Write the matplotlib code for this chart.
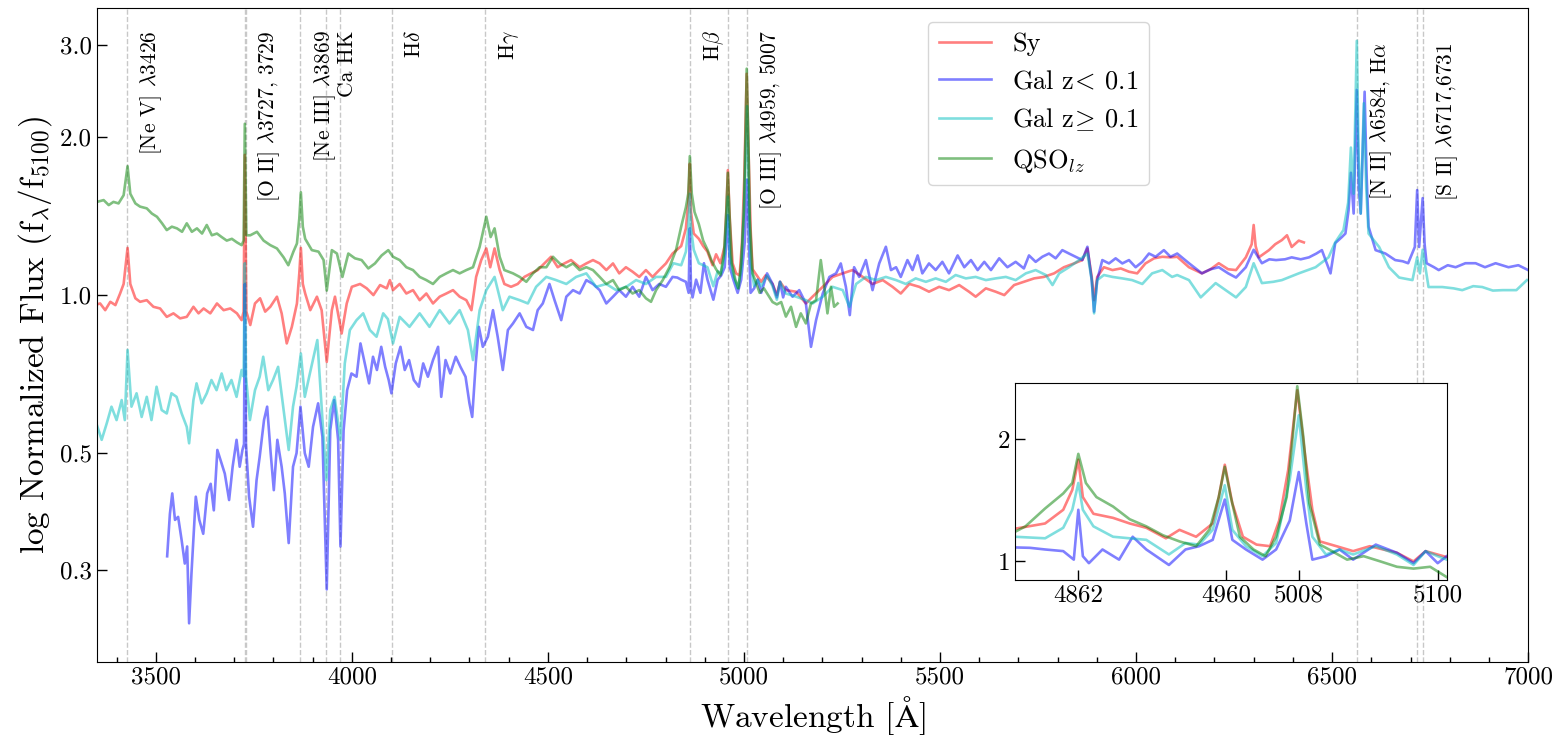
import matplotlib
matplotlib.use("Agg")
import matplotlib.pyplot as plt
from matplotlib.ticker import FixedLocator, FixedFormatter, MultipleLocator, NullLocator

plt.rcParams['font.family'] = ['cmr10', 'DejaVu Serif']
plt.rcParams['mathtext.fontset'] = 'cm'
plt.rcParams['axes.unicode_minus'] = False

# ---- composite spectra (wavelength in A, normalized flux) ----
sy_wave = [3350, 3358, 3371, 3384, 3397, 3409, 3418, 3428, 3435, 3448, 3460, 3477, 3494, 3511,
           3528, 3545, 3562, 3579, 3596, 3609, 3622, 3639, 3656, 3673, 3690, 3707, 3719, 3724,
           3727, 3731, 3741, 3753, 3766, 3779, 3792, 3809, 3821, 3834, 3847, 3860, 3866, 3870,
           3875, 3881, 3894, 3911, 3923, 3936, 3949, 3957, 3974, 3987, 4000, 4021, 4038, 4055,
           4072, 4089, 4097, 4105, 4122, 4139, 4156, 4173, 4190, 4207, 4224, 4241, 4258, 4275,
           4292, 4305, 4317, 4330, 4343, 4353, 4364, 4377, 4389, 4406, 4423, 4440, 4457, 4474,
           4491, 4508, 4525, 4542, 4559, 4581, 4598, 4615, 4632, 4649, 4666, 4682, 4699, 4716,
           4733, 4750, 4767, 4784, 4801, 4818, 4840, 4852, 4858, 4862, 4865, 4872, 4885, 4896,
           4907, 4920, 4929, 4940, 4951, 4955, 4959, 4964, 4971, 4980, 4989, 4995, 5001, 5007,
           5012, 5017, 5022, 5033, 5044, 5055, 5073, 5084, 5092, 5107, 5133, 5158, 5175, 5201,
           5226, 5252, 5277, 5303, 5328, 5354, 5379, 5400, 5422, 5447, 5472, 5498, 5523, 5549,
           5574, 5591, 5617, 5642, 5664, 5689, 5714, 5740, 5765, 5791, 5816, 5842, 5863, 5876,
           5887, 5893, 5901, 5918, 5940, 5961, 5982, 6003, 6024, 6046, 6067, 6088, 6105, 6135,
           6168, 6190, 6211, 6235, 6255, 6280, 6295, 6300, 6305, 6313, 6339, 6355, 6372, 6385,
           6397, 6415, 6428]
sy_flux = [0.96, 0.964, 0.936, 0.971, 0.957, 1.007, 1.05, 1.23, 1.05, 0.986, 0.971, 0.978, 0.95, 0.943,
           0.909, 0.923, 0.903, 0.909, 0.95, 0.923, 0.943, 0.923, 0.964, 0.936, 0.943, 0.923, 0.896, 0.93,
           1.85, 0.93, 0.877, 0.964, 0.986, 0.93, 0.95, 0.993, 0.923, 0.809, 0.87, 0.964, 1.10, 1.23,
           1.05, 1.007, 0.936, 0.993, 0.936, 0.746, 0.936, 0.993, 0.845, 0.964, 1.037, 1.05, 1.03, 1.0,
           1.045, 1.03, 1.068, 1.022, 1.05, 1.007, 1.022, 0.978, 1.007, 0.964, 0.993, 1.007, 1.022, 0.993,
           0.978, 0.936, 1.083, 1.166, 1.227, 1.13, 1.227, 1.116, 1.05, 1.037, 1.05, 1.083, 1.10, 1.116,
           1.149, 1.183, 1.13, 1.149, 1.166, 1.13, 1.149, 1.166, 1.149, 1.116, 1.149, 1.10, 1.13, 1.108,
           1.083, 1.116, 1.083, 1.116, 1.149, 1.20, 1.24, 1.34, 1.50, 1.78, 1.44, 1.31, 1.28, 1.24,
           1.21, 1.14, 1.196, 1.15, 1.24, 1.44, 1.73, 1.39, 1.15, 1.10, 1.09, 1.26, 1.68, 2.64,
           1.85, 1.34, 1.12, 1.09, 1.06, 1.09, 1.05, 1.00, 1.06, 1.022, 1.015, 0.964, 0.993, 1.037,
           1.083, 1.10, 1.116, 1.083, 1.05, 1.068, 1.037, 1.007, 1.05, 1.037, 1.015, 1.037, 1.022, 1.045,
           1.015, 0.993, 1.03, 1.015, 1.0, 1.045, 1.06, 1.076, 1.083, 1.10, 1.13, 1.149, 1.166, 1.227,
           1.083, 0.978, 1.083, 1.13, 1.116, 1.124, 1.108, 1.10, 1.149, 1.175, 1.183, 1.18, 1.183, 1.13,
           1.10, 1.12, 1.15, 1.12, 1.116, 1.18, 1.25, 1.36, 1.24, 1.18, 1.218, 1.25, 1.273, 1.30,
           1.235, 1.27, 1.26]

gal_lo_wave = [3529, 3536, 3542, 3549, 3557, 3566, 3574, 3580, 3585, 3591, 3602, 3611, 3621, 3631,
               3640, 3648, 3657, 3665, 3676, 3687, 3696, 3706, 3714, 3721, 3725, 3727, 3730, 3738,
               3748, 3757, 3765, 3776, 3784, 3793, 3801, 3810, 3821, 3829, 3839, 3850, 3859, 3869,
               3880, 3890, 3901, 3914, 3925, 3936, 3945, 3955, 3965, 3971, 3979, 3988, 3999, 4012,
               4022, 4033, 4044, 4054, 4064, 4075, 4085, 4094, 4101, 4112, 4124, 4135, 4146, 4158,
               4171, 4182, 4194, 4207, 4220, 4228, 4239, 4251, 4265, 4277, 4290, 4300, 4307, 4316,
               4324, 4334, 4347, 4360, 4372, 4385, 4398, 4411, 4428, 4445, 4462, 4474, 4487, 4504,
               4517, 4534, 4547, 4564, 4581, 4598, 4615, 4632, 4649, 4666, 4682, 4699, 4716, 4733,
               4750, 4767, 4784, 4801, 4818, 4830, 4840, 4852, 4859, 4862, 4865, 4869, 4878, 4889,
               4898, 4907, 4922, 4933, 4942, 4951, 4959, 4964, 4973, 4984, 4993, 5002, 5008, 5013,
               5017, 5026, 5035, 5044, 5059, 5073, 5084, 5092, 5100, 5107, 5124, 5141, 5158, 5171,
               5184, 5201, 5218, 5235, 5247, 5260, 5270, 5281, 5294, 5311, 5328, 5345, 5362, 5375,
               5388, 5400, 5417, 5430, 5443, 5455, 5472, 5489, 5506, 5523, 5545, 5562, 5579, 5596,
               5613, 5630, 5651, 5672, 5693, 5714, 5727, 5744, 5761, 5778, 5795, 5812, 5829, 5846,
               5863, 5876, 5887, 5893, 5901, 5914, 5931, 5948, 5965, 5982, 5999, 6016, 6033, 6050,
               6071, 6088, 6105, 6135, 6168, 6190, 6211, 6235, 6255, 6280, 6300, 6321, 6340, 6357,
               6380, 6397, 6420, 6441, 6460, 6474, 6496, 6508, 6525, 6534, 6542, 6548, 6555, 6563,
               6568, 6573, 6583, 6588, 6593, 6611, 6636, 6661, 6680, 6694, 6711, 6717, 6722, 6731,
               6736, 6741, 6760, 6772, 6795, 6815, 6840, 6866, 6890, 6917, 6950, 6975, 7000]
gal_lo_flux = [0.318, 0.383, 0.419, 0.373, 0.378, 0.341, 0.308, 0.332, 0.237, 0.295, 0.413, 0.373, 0.351, 0.419,
               0.437, 0.389, 0.507, 0.485, 0.457, 0.407, 0.471, 0.53, 0.471, 0.507, 0.52, 1.05, 0.52, 0.413,
               0.362, 0.444, 0.492, 0.578, 0.613, 0.5, 0.425, 0.53, 0.471, 0.419, 0.337, 0.471, 0.5, 0.613,
               0.5, 0.471, 0.561, 0.622, 0.537, 0.275, 0.553, 0.631, 0.53, 0.332, 0.553, 0.659, 0.709, 0.699,
               0.809, 0.741, 0.679, 0.763, 0.72, 0.797, 0.73, 0.689, 0.65, 0.741, 0.797, 0.72, 0.752, 0.689,
               0.669, 0.741, 0.699, 0.752, 0.797, 0.64, 0.752, 0.709, 0.763, 0.73, 0.699, 0.622, 0.586, 0.741,
               0.87, 0.797, 0.833, 0.936, 0.833, 0.72, 0.858, 0.883, 0.923, 0.87, 0.858, 0.936, 0.964, 1.05,
               0.978, 0.896, 0.993, 1.022, 1.007, 1.068, 1.05, 1.022, 0.964, 0.993, 1.022, 0.993, 1.037, 0.993,
               1.083, 1.022, 1.05, 1.037, 1.083, 1.08, 1.07, 1.06, 1.01, 1.34, 1.03, 0.99, 1.07, 1.01,
               1.15, 1.07, 0.98, 1.07, 1.09, 1.13, 1.42, 1.13, 1.07, 1.01, 1.07, 1.26, 1.66, 1.24,
               1.01, 1.03, 1.07, 1.01, 1.10, 1.05, 0.99, 1.06, 0.99, 1.037, 0.993, 1.022, 0.964, 0.797,
               0.896, 1.007, 1.083, 1.10, 1.149, 1.037, 0.916, 1.13, 1.083, 1.166, 1.022, 1.149, 1.236, 1.116,
               1.13, 1.083, 1.166, 1.116, 1.19, 1.10, 1.149, 1.116, 1.157, 1.10, 1.19, 1.13, 1.166, 1.116,
               1.157, 1.116, 1.175, 1.13, 1.157, 1.124, 1.19, 1.157, 1.183, 1.20, 1.175, 1.218, 1.20, 1.183,
               1.166, 1.236, 1.068, 0.93, 1.068, 1.166, 1.149, 1.175, 1.149, 1.166, 1.13, 1.157, 1.20, 1.183,
               1.218, 1.183, 1.20, 1.15, 1.10, 1.12, 1.13, 1.10, 1.08, 1.13, 1.22, 1.15, 1.17, 1.166,
               1.17, 1.18, 1.17, 1.18, 1.20, 1.218, 1.10, 1.256, 1.29, 1.31, 1.45, 1.71, 1.43, 2.46,
               1.60, 1.43, 2.44, 1.70, 1.35, 1.218, 1.20, 1.166, 1.16, 1.15, 1.235, 1.585, 1.235, 1.53,
               1.25, 1.15, 1.13, 1.116, 1.14, 1.13, 1.15, 1.15, 1.13, 1.15, 1.13, 1.14, 1.116]

gal_hi_wave = [3350, 3362, 3375, 3387, 3400, 3413, 3421, 3428, 3438, 3451, 3464, 3477, 3489, 3502,
               3515, 3528, 3540, 3553, 3566, 3579, 3585, 3596, 3604, 3617, 3630, 3642, 3655, 3668,
               3680, 3693, 3706, 3719, 3724, 3727, 3730, 3740, 3753, 3765, 3774, 3787, 3799, 3812,
               3825, 3839, 3850, 3859, 3870, 3880, 3893, 3912, 3924, 3935, 3945, 3956, 3971, 3982,
               3995, 4012, 4029, 4046, 4063, 4080, 4092, 4105, 4122, 4147, 4173, 4198, 4224, 4249,
               4275, 4296, 4309, 4326, 4343, 4364, 4385, 4402, 4428, 4449, 4470, 4496, 4521, 4547,
               4572, 4598, 4623, 4649, 4674, 4700, 4725, 4750, 4776, 4801, 4820, 4840, 4852, 4858,
               4862, 4865, 4872, 4885, 4896, 4907, 4922, 4933, 4942, 4951, 4959, 4964, 4973, 4984,
               4993, 5002, 5008, 5013, 5017, 5026, 5035, 5044, 5059, 5073, 5084, 5092, 5100, 5107,
               5133, 5158, 5175, 5201, 5226, 5252, 5269, 5286, 5311, 5337, 5362, 5388, 5413, 5438,
               5464, 5489, 5515, 5540, 5566, 5591, 5617, 5642, 5668, 5693, 5719, 5744, 5770, 5787,
               5804, 5829, 5855, 5876, 5887, 5893, 5901, 5918, 5940, 5965, 5990, 6016, 6041, 6067,
               6092, 6105, 6135, 6165, 6203, 6230, 6255, 6280, 6300, 6321, 6350, 6372, 6415, 6458,
               6491, 6508, 6529, 6541, 6548, 6555, 6563, 6568, 6573, 6581, 6587, 6593, 6620, 6645,
               6671, 6705, 6717, 6724, 6731, 6746, 6781, 6810, 6832, 6860, 6883, 6910, 6935, 6970,
               6997]
gal_hi_flux = [0.565, 0.53, 0.57, 0.613, 0.578, 0.631, 0.578, 0.786, 0.613, 0.65, 0.586, 0.64, 0.578, 0.669,
               0.604, 0.595, 0.65, 0.64, 0.595, 0.561, 0.522, 0.631, 0.679, 0.622, 0.65, 0.689, 0.659, 0.709,
               0.659, 0.689, 0.64, 0.72, 0.70, 1.15, 0.70, 0.578, 0.659, 0.699, 0.763, 0.659, 0.689, 0.73,
               0.613, 0.507, 0.613, 0.669, 0.774, 0.64, 0.709, 0.821, 0.595, 0.444, 0.604, 0.64, 0.53, 0.741,
               0.858, 0.896, 0.923, 0.858, 0.833, 0.923, 0.90, 0.809, 0.909, 0.87, 0.923, 0.87, 0.936, 0.883,
               0.936, 0.858, 0.752, 0.936, 1.022, 1.083, 0.936, 0.993, 0.978, 0.964, 1.037, 1.083, 1.068, 1.05,
               1.083, 1.10, 1.037, 1.05, 1.022, 1.037, 1.068, 1.05, 1.083, 1.083, 1.15, 1.14, 1.21, 1.34,
               1.56, 1.34, 1.22, 1.15, 1.14, 1.13, 1.04, 1.11, 1.10, 1.196, 1.54, 1.196, 1.09, 1.03,
               1.11, 1.59, 2.29, 1.50, 1.15, 1.04, 1.07, 1.04, 1.09, 1.04, 0.98, 1.06, 1.03, 1.007,
               0.993, 0.978, 0.964, 0.993, 1.037, 1.022, 0.95, 1.05, 1.083, 1.068, 1.083, 1.068, 1.05, 1.076,
               1.06, 1.076, 1.06, 1.092, 1.076, 1.083, 1.068, 1.076, 1.083, 1.068, 1.10, 1.116, 1.092, 1.045,
               1.10, 1.13, 1.166, 1.20, 1.068, 0.923, 1.068, 1.092, 1.083, 1.076, 1.068, 1.05, 1.10, 1.116,
               1.083, 1.092, 1.068, 0.99, 1.054, 1.02, 0.99, 1.036, 1.15, 1.054, 1.06, 1.068, 1.10, 1.13,
               1.18, 1.26, 1.33, 1.50, 1.91, 1.56, 3.05, 1.80, 1.43, 2.32, 1.60, 1.31, 1.235, 1.13,
               1.08, 1.068, 1.18, 1.10, 1.22, 1.036, 1.036, 1.03, 1.022, 1.04, 1.036, 1.02, 1.022, 1.022,
               1.068]

qso_wave = [3350, 3367, 3380, 3392, 3405, 3418, 3428, 3435, 3448, 3460, 3477, 3490, 3503, 3516,
            3528, 3541, 3554, 3567, 3579, 3592, 3605, 3618, 3630, 3643, 3656, 3668, 3681, 3694,
            3707, 3719, 3724, 3727, 3731, 3741, 3758, 3775, 3792, 3809, 3826, 3838, 3851, 3860,
            3866, 3870, 3875, 3881, 3898, 3915, 3928, 3936, 3949, 3962, 3976, 3991, 4008, 4025,
            4042, 4059, 4076, 4093, 4105, 4122, 4139, 4156, 4173, 4190, 4207, 4224, 4241, 4258,
            4275, 4292, 4309, 4326, 4343, 4354, 4364, 4377, 4389, 4411, 4428, 4445, 4462, 4479,
            4496, 4513, 4530, 4547, 4564, 4581, 4598, 4615, 4632, 4649, 4666, 4682, 4699, 4716,
            4733, 4750, 4763, 4776, 4793, 4810, 4827, 4840, 4852, 4858, 4862, 4867, 4874, 4885,
            4896, 4907, 4918, 4929, 4940, 4949, 4955, 4959, 4963, 4969, 4978, 4986, 4993, 5000,
            5004, 5007, 5011, 5015, 5022, 5028, 5040, 5051, 5062, 5073, 5084, 5095, 5107, 5120,
            5133, 5145, 5158, 5171, 5184, 5196, 5205, 5213, 5222, 5230, 5239]
qso_flux = [1.505, 1.517, 1.484, 1.505, 1.495, 1.55, 1.76, 1.56, 1.495, 1.474, 1.463, 1.43, 1.41, 1.37,
            1.33, 1.35, 1.34, 1.32, 1.37, 1.32, 1.34, 1.31, 1.36, 1.30, 1.31, 1.29, 1.27, 1.28,
            1.26, 1.245, 1.27, 2.12, 1.30, 1.30, 1.32, 1.27, 1.245, 1.227, 1.18, 1.14, 1.21, 1.254,
            1.40, 1.57, 1.35, 1.28, 1.218, 1.21, 1.166, 1.02, 1.218, 1.20, 1.083, 1.20, 1.175, 1.166,
            1.124, 1.149, 1.19, 1.218, 1.183, 1.166, 1.13, 1.116, 1.083, 1.068, 1.05, 1.083, 1.10, 1.116,
            1.10, 1.116, 1.13, 1.236, 1.41, 1.29, 1.34, 1.183, 1.116, 1.10, 1.083, 1.06, 1.10, 1.13,
            1.13, 1.183, 1.149, 1.13, 1.149, 1.116, 1.13, 1.116, 1.083, 1.05, 1.068, 1.022, 1.037, 1.007,
            1.022, 0.986, 0.971, 1.022, 1.068, 1.13, 1.22, 1.35, 1.47, 1.56, 1.84, 1.56, 1.44, 1.365,
            1.27, 1.22, 1.16, 1.12, 1.09, 1.20, 1.44, 1.71, 1.44, 1.15, 1.07, 1.03, 1.15, 1.44,
            2.03, 2.70, 2.03, 1.39, 1.10, 1.07, 1.01, 1.03, 1.00, 0.97, 0.96, 0.97, 0.91, 0.95,
            0.87, 0.923, 0.883, 0.964, 0.978, 1.166, 1.037, 0.923, 1.037, 0.95, 0.964]

# emission / absorption features marked on the plot
line_waves = [3426, 3727, 3729, 3869, 3934, 3969, 4102, 4340, 4862, 4959, 5007, 6563, 6717, 6731]
label_texts = [r"[Ne V] $\lambda$3426", r"[O II] $\lambda$3727, 3729", r"[Ne III] $\lambda$3869",
               "Ca HK", r"H$\delta$", r"H$\gamma$", r"H$\beta$", r"[O III] $\lambda$4959, 5007",
               r"[N II] $\lambda$6584, H$\alpha$", r"[S II] $\lambda$6717,6731"]
label_waves = [3426, 3727, 3869, 3934, 4102, 4340, 4862, 5007, 6563, 6731]

series = [
    ("Sy", sy_wave, sy_flux, "red"),
    (r"Gal z$\!<\!$ 0.1", gal_lo_wave, gal_lo_flux, "blue"),
    (r"Gal z$\!\geq\!$ 0.1", gal_hi_wave, gal_hi_flux, "c"),
    (r"QSO$_{lz}$", qso_wave, qso_flux, "green"),
]

y_ticks = [0.3, 0.5, 1.0, 2.0, 3.0]
y_ticklabels = ["0.3", "0.5", "1.0", "2.0", "3.0"]
inset_xticks = [4862, 4960, 5008, 5100]
inset_yticks = [1, 2]

fig = plt.figure(figsize=(15.59, 7.45), dpi=100)
ax = fig.add_axes([0.0622, 0.1114, 0.918, 0.8776])

for w in line_waves:
    ax.axvline(w, color="#c8c8c8", ls="--", lw=1.0, zorder=0)

for name, wave, flux, col in series:
    ax.plot(wave, flux, color=col, alpha=0.5, lw=1.9, label=name)

for txt, w in zip(label_texts, label_waves):
    ytop = 0.948 if w > 6000 else 0.966
    ax.text(w + 30, ytop, txt, rotation=90, ha="left", va="top", fontsize=15.5,
            transform=ax.get_xaxis_transform())

ax.set_yscale("log")
ax.set_xlim(3350, 7000)
ax.set_ylim(0.2, 3.52)
ax.yaxis.set_major_locator(FixedLocator(y_ticks))
ax.yaxis.set_major_formatter(FixedFormatter(y_ticklabels))
ax.yaxis.set_minor_locator(NullLocator())
ax.xaxis.set_major_locator(MultipleLocator(500))
ax.xaxis.set_minor_locator(MultipleLocator(100))
ax.tick_params(which="both", direction="in", labelsize=18, width=1)
ax.tick_params(which="major", length=7)
ax.tick_params(which="minor", length=3.5)
ax.set_xlabel(r"Wavelength [$\mathrm{\AA}$]", fontsize=24)
ax.set_ylabel(r"log Normalized Flux (f$_\lambda$/f$_{5100}$)", fontsize=24)

ax.legend(loc="upper left", bbox_to_anchor=(0.5807, 0.9786), borderaxespad=0, fontsize=19)

# inset around H-beta / [O III]
axin = fig.add_axes([0.651, 0.2215, 0.277, 0.2644])
for name, wave, flux, col in series:
    axin.plot(wave, flux, color=col, alpha=0.5, lw=1.9)
axin.set_yscale("log")
axin.set_xlim(4820, 5106)
axin.set_ylim(0.9, 2.75)
axin.xaxis.set_major_locator(FixedLocator(inset_xticks))
axin.xaxis.set_major_formatter(FixedFormatter([str(t) for t in inset_xticks]))
axin.yaxis.set_major_locator(FixedLocator(inset_yticks))
axin.yaxis.set_major_formatter(FixedFormatter([str(t) for t in inset_yticks]))
axin.yaxis.set_minor_locator(NullLocator())
axin.xaxis.set_minor_locator(NullLocator())
axin.tick_params(which="both", direction="in", labelsize=18, length=7, width=1)

fig.savefig("out.png", dpi=100)
